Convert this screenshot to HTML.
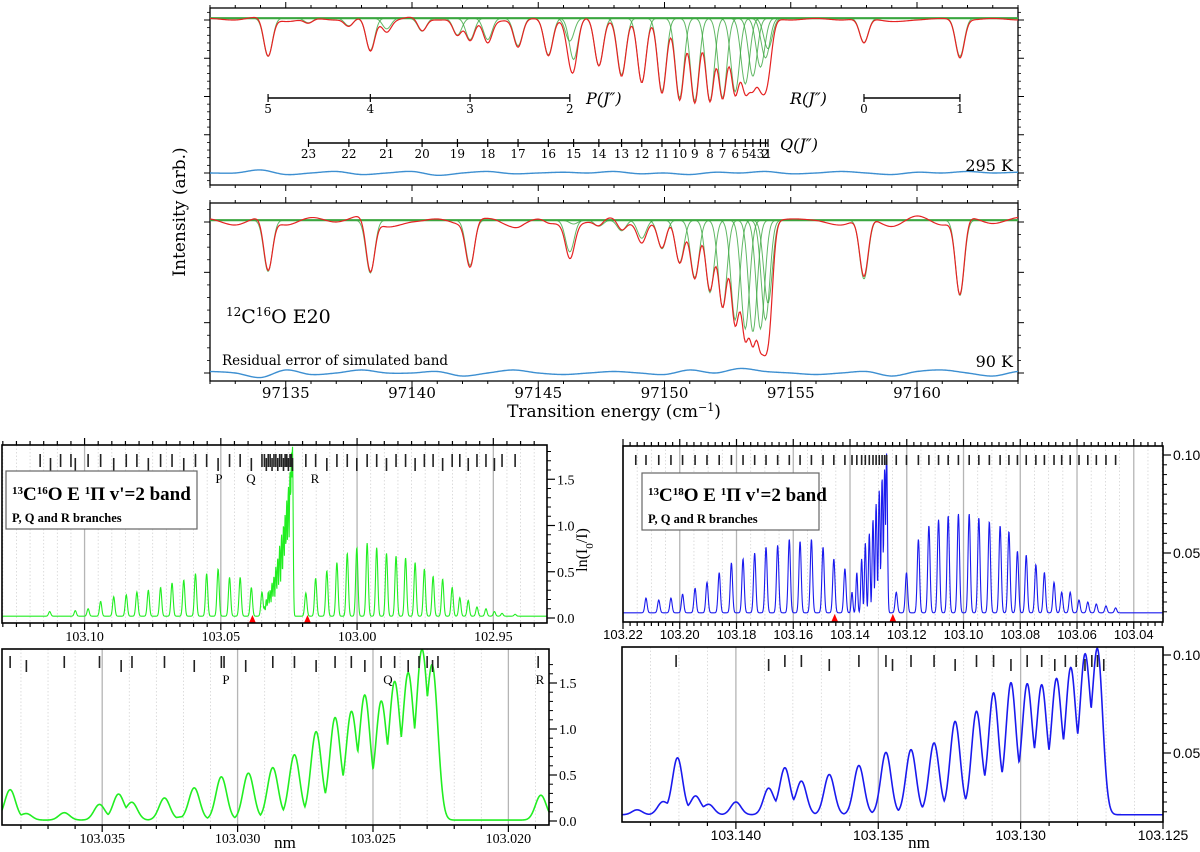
<!DOCTYPE html>
<html><head><meta charset="utf-8">
<style>
html,body{margin:0;padding:0;background:#fff;}
svg{display:block;}
.serif{font-family:"DejaVu Serif","Liberation Serif",serif;}
.times{font-family:"Liberation Serif",serif;}
.sans{font-family:"Liberation Sans",sans-serif;}
</style></head>
<body>
<svg id="fig" width="1200" height="852" viewBox="0 0 1200 852" xmlns="http://www.w3.org/2000/svg">
<g id="gTop1"></g>
<g id="gTop2"></g>
<g id="gBL1"></g>
<g id="gBR1"></g>
<g id="gBL2"></g>
<g id="gBR2"></g>
<g id="gText">
  <text class="serif" x="185" y="212" font-size="17" text-anchor="middle" transform="rotate(-90 185 212)">Intensity (arb.)</text>
  <text class="serif" x="614" y="417" font-size="17" text-anchor="middle">Transition energy (cm<tspan baseline-shift="super" font-size="11">−1</tspan>)</text>
  <text class="serif" x="1013" y="171" font-size="16" text-anchor="end">295 K</text>
  <text class="serif" x="1013" y="367" font-size="16" text-anchor="end">90 K</text>
  <text class="serif" x="222" y="365" font-size="13.5">Residual error of simulated band</text>
  <text class="serif" x="226" y="323" font-size="19"><tspan baseline-shift="super" font-size="12">12</tspan>C<tspan baseline-shift="super" font-size="12">16</tspan>O E20</text>
  <text class="serif" x="586" y="104" font-size="16" font-style="italic">P(J″)</text>
  <text class="serif" x="790" y="104" font-size="16" font-style="italic">R(J″)</text>
  <text class="serif" x="780" y="150" font-size="16" font-style="italic">Q(J″)</text>
  <text class="times" x="587" y="550" font-size="16" text-anchor="middle" transform="rotate(-90 587 550)">ln(I<tspan baseline-shift="sub" font-size="11">0</tspan>/I)</text>
  <text class="times" x="285" y="848" font-size="17" text-anchor="middle">nm</text>
  <text class="times" x="919" y="848" font-size="17" text-anchor="middle">nm</text>
  <g>
    <rect x="6" y="471" width="191" height="58" fill="#fff" stroke="#666" stroke-width="1.2"/>
    <text class="times" x="12" y="500" font-size="19" font-weight="bold"><tspan baseline-shift="super" font-size="11">13</tspan>C<tspan baseline-shift="super" font-size="11">16</tspan>O   E <tspan baseline-shift="super" font-size="11">1</tspan>Π v'=2 band</text>
    <text class="times" x="12" y="522" font-size="12.5" font-weight="bold">P, Q and R branches</text>
  </g>
  <g>
    <rect x="642" y="473" width="177" height="57" fill="#fff" stroke="#666" stroke-width="1.2"/>
    <text class="times" x="648" y="501" font-size="19" font-weight="bold"><tspan baseline-shift="super" font-size="11">13</tspan>C<tspan baseline-shift="super" font-size="11">18</tspan>O   E <tspan baseline-shift="super" font-size="11">1</tspan>Π v'=2 band</text>
    <text class="times" x="648" y="523" font-size="12.5" font-weight="bold">P, Q and R branches</text>
  </g>
</g>
</svg>
<script>
// ================= DATA =================
const pLabels = [5, 4, 3, 2];
const pPos = [97134.3, 97138.35, 97142.3, 97146.25];
const rLabels = [0, 1];
const rPos = [97157.9, 97161.7];
const qLabels = [1,2,3,4,5,6,7,8,9,10,11,12,13,14,15,16,17,18,19,20,21,22,23];
const qPos = [97154.1,97154.0,97153.8,97153.5,97153.2,97152.8,97152.3,97151.8,97151.2,97150.6,97149.9,97149.1,97148.3,97147.4,97146.4,97145.4,97144.2,97143.0,97141.8,97140.4,97139.0,97137.5,97135.9];
const pDepth295 = [0.25, 0.21, 0.14, 0.15];
const rDepth295 = [0.16, 0.25];
const qDepth295 = [0.20,0.26,0.32,0.38,0.43,0.48,0.52,0.54,0.54,0.52,0.48,0.42,0.37,0.31,0.27,0.24,0.18,0.14,0.11,0.085,0.07,0.05,0.03];
const pDepth90 = [0.34, 0.35, 0.30, 0.21];
const rDepth90 = [0.39, 0.50];
const qDepth90 = [0.55,0.66,0.72,0.74,0.72,0.66,0.58,0.48,0.38,0.28,0.19,0.12,0.07,0.04,0.025,0.015,0.01,0.006,0.004,0.003,0.002,0.002,0.001];
const ripple295 = [0.01,0.0,0.02,-0.01,0.01,0.0,0.015,-0.01,0.02,0.0,0.01,-0.01,0.0,0.01,0.0,0.015,0.0,0.01,0.0,-0.005,0.01,0.0,0.01,0.0,0.01,0.0,0.01,-0.01,0.0,0.01,0.0,0.01,0.0];
const ripple90 = [0.02,-0.02,0.03,-0.02,0.03,0.0,0.04,-0.03,0.0,0.02,-0.01,0.03,-0.03,0.02,-0.02,0.0,0.03,-0.02,0.02,0.0,0.03,-0.02,0.0,0.02,0.01,-0.02,0.03,-0.03,0.04,-0.02,0.03,-0.01,0.03];
const resid295 = [0.0,0.0,0.02,-0.01,0.0,0.01,-0.01,0.0,0.01,-0.015,0.0,0.01,-0.005,0.0,0.005,0.0,0.01,-0.005,0.0,-0.01,0.005,0.0,0.01,-0.005,0.0,0.01,0.0,-0.01,0.005,0.0,0.01,0.0,0.005];
const resid90 = [0.01,0.0,-0.03,0.02,-0.01,0.0,0.02,0.0,0.0,0.01,-0.02,0.0,0.02,0.0,-0.01,0.0,0.01,0.0,-0.01,0.02,0.0,0.03,0.01,0.0,-0.01,0.0,0.01,-0.02,0.01,0.02,0.0,-0.02,0.01];

const c16PPos = [103.1128,103.1034,103.0987,103.0941,103.0893,103.0847,103.0808,103.0766,103.0721,103.0679,103.0636,103.0593,103.0552,103.0510,103.0468,103.0429,103.0388,103.0349];
const c16PVal = [0.07,0.08,0.10,0.18,0.23,0.25,0.28,0.30,0.33,0.38,0.41,0.48,0.48,0.53,0.44,0.44,0.33,0.28];
const c16QPos = [103.0340,103.0333,103.0326,103.0319,103.0312,103.0305,103.0298,103.0291,103.0284,103.0277,103.0270,103.0264,103.0258,103.0252,103.0246,103.0241,103.0237];
const c16QVal = [0.12,0.20,0.28,0.30,0.38,0.45,0.55,0.65,0.78,0.90,1.00,1.10,1.25,1.40,1.55,1.70,1.80];
const c16RPos = [103.0188,103.0152,103.0111,103.0074,103.0036,103.0001,102.9963,102.9928,102.9892,102.9857,102.9822,102.9787,102.9753,102.9721,102.9686,102.9651,102.9623,102.9592,102.9560,102.9527,102.9496,102.9468,102.9420];
const c16RVal = [0.27,0.43,0.51,0.60,0.70,0.76,0.81,0.76,0.70,0.67,0.65,0.60,0.53,0.45,0.42,0.33,0.22,0.19,0.12,0.10,0.07,0.05,0.04];
const c16Arrows = [103.0384, 103.0182];

const c18PPos = [103.2119,103.2074,103.2031,103.1990,103.1946,103.1904,103.1861,103.1818,103.1777,103.1736,103.1696,103.1655,103.1614,103.1576,103.1536,103.1495,103.1457,103.1418];
const c18PVal = [0.027,0.026,0.027,0.029,0.032,0.035,0.040,0.045,0.047,0.050,0.053,0.054,0.057,0.056,0.057,0.053,0.047,0.042];
const c18QPos = [103.1393,103.1376,103.1359,103.1346,103.1332,103.1319,103.1308,103.1297,103.1287,103.1278,103.1271];
const c18QVal = [0.030,0.040,0.047,0.055,0.060,0.067,0.075,0.082,0.088,0.092,0.100];
const c18RPos = [103.1237,103.1201,103.1159,103.1122,103.1088,103.1054,103.1018,103.0980,103.0946,103.0909,103.0871,103.0840,103.0810,103.0779,103.0745,103.0715,103.0681,103.0654,103.0624,103.0593,103.0562,103.0532,103.0498,103.0464];
const c18RVal = [0.030,0.040,0.057,0.064,0.067,0.069,0.070,0.070,0.068,0.066,0.064,0.061,0.051,0.049,0.044,0.040,0.035,0.030,0.030,0.026,0.025,0.024,0.023,0.022];
const c18Arrows = [103.1454, 103.1249];

const z16Pos = [103.0384,103.0378,103.0364,103.0351,103.0344,103.0339,103.0327,103.0321,103.0316,103.0306,103.0296,103.0287,103.0279,103.0271,103.0264,103.0258,103.0253,103.0247,103.0242,103.0237,103.0232,103.0228,103.0188];
const z16Val = [0.34,0.08,0.09,0.18,0.29,0.20,0.25,0.04,0.36,0.48,0.52,0.58,0.72,0.97,1.12,1.17,1.35,1.28,1.48,1.57,1.78,1.62,0.28];
const z16Marks = [103.0384,103.0378,103.0364,103.0351,103.0343,103.0339,103.0327,103.0316,103.0306,103.0305,103.0297,103.0287,103.0279,103.0271,103.0264,103.0258,103.0253,103.0247,103.0242,103.0237,103.0233,103.0230,103.0228,103.0226,103.0189];

const z18Pos = [103.14347,103.14257,103.14205,103.14142,103.14095,103.14000,103.13885,103.13828,103.13770,103.13672,103.13568,103.13473,103.13385,103.13304,103.13230,103.13155,103.13095,103.13034,103.12977,103.12926,103.12874,103.12824,103.12774,103.12730];
const z18Val = [0.021,0.025,0.0475,0.028,0.0237,0.025,0.032,0.0424,0.0356,0.039,0.0436,0.0503,0.0517,0.0551,0.0661,0.0712,0.0805,0.0856,0.0847,0.0839,0.087,0.0924,0.0983,0.1017];
const z18Marks = [103.14210,103.13885,103.13828,103.13770,103.13672,103.13568,103.13473,103.13450,103.13385,103.13304,103.13230,103.13155,103.13095,103.13034,103.12977,103.12926,103.12880,103.12843,103.12805,103.12774,103.12750,103.12730,103.12708];

// ================= HELPERS =================
const NS = 'http://www.w3.org/2000/svg';
function mk(parent, tag, attrs){
  const e = document.createElementNS(NS, tag);
  for (const k in attrs) e.setAttribute(k, attrs[k]);
  parent.appendChild(e);
  return e;
}
function lin(d0,d1,r0,r1){ return v => r0 + (v-d0)*(r1-r0)/(d1-d0); }
function gauss(x, c, s){ const t=(x-c)/s; return Math.exp(-0.5*t*t); }
function smooth(arr, x0, step, x){
  const f=(x-x0)/step; let i=Math.floor(f); const t=f-i;
  const g=k=>arr[Math.max(0,Math.min(arr.length-1,k))];
  const p0=g(i-1),p1=g(i),p2=g(i+1),p3=g(i+2);
  return 0.5*((2*p1)+(-p0+p2)*t+(2*p0-5*p1+4*p2-p3)*t*t+(-p0+3*p1-3*p2+p3)*t*t*t);
}
function pathFrom(xs, ys){
  let d=''; for(let i=0;i<xs.length;i++){ d+=(i?'L':'M')+xs[i].toFixed(2)+' '+ys[i].toFixed(2); } return d;
}

// ================= TOP PANELS =================
const E0=97132, E1=97164;
const XT = lin(E0,E1,210,1018);
const topSig = 0.17;
function topPanel(g, yTop, yBot, Y, pD, rD, qD, ripple, resid, majorI, minorI, showLabels){
  const fr = mk(g,'rect',{x:210,y:yTop,width:808,height:yBot-yTop,fill:'none',stroke:'#000','stroke-width':1.3});
  
  
  for(let e=E0;e<=E1;e++){
    const x=XT(e); const major = e%5===0; const L = major?6:3;
    mk(g,'line',{x1:x,y1:yBot,x2:x,y2:yBot+L,stroke:'#000','stroke-width':1});
    mk(g,'line',{x1:x,y1:yTop,x2:x,y2:yTop-L,stroke:'#000','stroke-width':1});
    if(major && showLabels){
      const t=mk(g,'text',{x:x,y:yBot+17,'font-size':15,'text-anchor':'middle',class:'serif'});
      t.textContent=String(e);
      
      
    }
  }
  majorI.forEach(v=>{
    const y=Y(v);
    mk(g,'line',{x1:210,y1:y,x2:204,y2:y,stroke:'#000','stroke-width':1});
    mk(g,'line',{x1:1018,y1:y,x2:1024,y2:y,stroke:'#000','stroke-width':1});
  });
  minorI.forEach(v=>{
    const y=Y(v);
    if(y<yTop||y>yBot) return;
    mk(g,'line',{x1:210,y1:y,x2:207,y2:y,stroke:'#000','stroke-width':0.8});
    mk(g,'line',{x1:1018,y1:y,x2:1021,y2:y,stroke:'#000','stroke-width':0.8});
  });
  const xs=[], red=[], blue=[];
  const comps=[];
  const allPos = pPos.concat(rPos, qPos), allD = pD.concat(rD, qD);
  allPos.forEach(()=>comps.push([]));
  for(let e=E0;e<=E1+1e-9;e+=0.04){
    xs.push(XT(e));
    let T=1;
    allPos.forEach((c,i)=>{ const v=allD[i]*gauss(e,c,topSig); T*=(1-v); comps[i].push(Y(1.012 - v)); });
    red.push(Math.min(yBot-1,Y(T + smooth(ripple,E0,1,e))));
    blue.push(Y(smooth(resid,E0,1,e)));
  }
  comps.forEach((ys,i)=>{
    if(allD[i]<0.02) return;
    const p=mk(g,'path',{d:pathFrom(xs,ys),fill:'none',stroke:'#3aa63f','stroke-width':1,'stroke-opacity':0.8});
    
    
  });
  const gl=mk(g,'line',{x1:210,y1:Y(1.012),x2:1018,y2:Y(1.012),stroke:'#3aa63f','stroke-width':2.2});
  
  
  const rp=mk(g,'path',{d:pathFrom(xs,red),fill:'none',stroke:'#e52222','stroke-width':1.2});
  
  
  const bp=mk(g,'path',{d:pathFrom(xs,blue),fill:'none',stroke:'#3d8fd1','stroke-width':1.4});
  
  
}
const Y1 = lin(0,1,173,20);
const Y2 = lin(0,1,373,222);
topPanel(document.getElementById('gTop1'),8,185,Y1,pDepth295,rDepth295,qDepth295,ripple295,resid295,[0,0.25,0.5,0.75,1],[-0.05,0.05,0.1,0.15,0.2,0.3,0.35,0.4,0.45,0.55,0.6,0.65,0.7,0.8,0.85,0.9,0.95,1.05],false);
topPanel(document.getElementById('gTop2'),203,381,Y2,pDepth90,rDepth90,qDepth90,ripple90,resid90,[0,1/3,2/3,1],[-1/12,1/12,2/12,3/12,5/12,6/12,7/12,9/12,10/12,11/12,13/12],true);

(function(){
  const g=document.getElementById('gTop1');
  function scale(pos, labels, y, fs, name){
    const xs=pos.map(XT);
    const ln=mk(g,'line',{x1:Math.min(...xs),y1:y,x2:Math.max(...xs),y2:y,stroke:'#000','stroke-width':1.6});
    
    
    xs.forEach((x,i)=>{
      mk(g,'line',{x1:x,y1:y-4,x2:x,y2:y+4,stroke:'#000','stroke-width':1.2});
      const t=mk(g,'text',{x:x,y:y+15,'font-size':fs,'text-anchor':'middle',class:'serif'});
      t.textContent=labels[i];
      
      
    });
  }
  scale(pPos,pLabels,98,12,'p-branch-scale');
  scale(rPos,rLabels,98,12,'r-branch-scale');
  scale(qPos,qLabels,143,12,'q-branch-scale');
})();

// ================= BOTTOM PANELS =================
function bottomPanel(o){
  const g=o.g, X=lin(o.d0,o.d1,o.x0,o.x1), Y=o.Y;
  for(let v=o.gridStart; v<=o.d0+1e-9; v+=o.minorGrid){
    const x=X(v); if(x<o.x0||x>o.x1) continue;
    const major = Math.abs(Math.round(v/o.majorGrid)*o.majorGrid - v) < o.minorGrid*0.1;
    mk(g,'line',{x1:x,y1:o.y0,x2:x,y2:o.y1,stroke:major?'#b5b5b5':'#d4d4d4','stroke-width':major?1.3:0.8,'stroke-dasharray':major?'':'1.5 2'});
    if(major && o.labelFmt){
      const t=mk(g,'text',{x:x,y:o.y1+o.labelDy,'font-size':o.labelFs,'text-anchor':'middle',class:o.labelFont});
      t.textContent=v.toFixed(o.labelFmt);
      
      
    }
  }
  for(let v=o.gridStart; v<=o.d0+1e-9; v+=o.xTick){
    const x=X(v); if(x<o.x0||x>o.x1) continue;
    const major = Math.abs(Math.round(v/o.majorGrid)*o.majorGrid - v) < o.xTick*0.1;
    const L=major?7:4;
    mk(g,'line',{x1:x,y1:o.y1,x2:x,y2:o.y1+L,stroke:'#000','stroke-width':1.2});
    if(o.topTicks) mk(g,'line',{x1:x,y1:o.y0,x2:x,y2:o.y0-L,stroke:'#000','stroke-width':1.2});
  }
  o.yMinor.forEach(v=>{ const y=Y(v); if(y<o.y0||y>o.y1) return;
    mk(g,'line',{x1:o.x1,y1:y,x2:o.x1+4,y2:y,stroke:'#000','stroke-width':1}); });
  o.yMajor.forEach((v,i)=>{ const y=Y(v);
    mk(g,'line',{x1:o.x1,y1:y,x2:o.x1+8,y2:y,stroke:'#000','stroke-width':1.2});
    const t=mk(g,'text',{x:o.x1+10,y:y+5,'font-size':o.yFs,class:o.yFont});
    t.textContent=o.yLabels[i];
    
    
  });
  const xs=[], ys=[];
  const n=1600;
  for(let k=0;k<=n;k++){
    const v=o.d0+(o.d1-o.d0)*k/n;
    let sum=0, mx=0;
    o.lines.forEach(L=>{ L.pos.forEach((c,i)=>{ const a=(L.val[i]-o.base)*gauss(v,c,L.sig); sum+=a; if(a>mx) mx=a; }); });
    const s=o.base+mx+o.overlap*(sum-mx);
    xs.push(X(v)); ys.push(Math.max(o.y0+1,Math.min(o.y1-1,Y(s))));
  }
  const sp=mk(g,'path',{d:pathFrom(xs,ys),fill:'none',stroke:o.color,'stroke-width':o.lw});
  
  
  o.marks.forEach((c,i)=>{
    const x=X(c); const off=(o.stagger && i%3===1)?4:0;
    const m=mk(g,'line',{x1:x,y1:o.markY+off,x2:x,y2:o.markY+o.markL+off,stroke:'#222','stroke-width':1.6});
    
    
  });
  (o.arrows||[]).forEach(c=>{
    const x=X(c);
    const a=mk(g,'path',{d:`M${x-3.5} ${o.y1}L${x+3.5} ${o.y1}L${x} ${o.y1-8}Z`,fill:'#f00'});
    
    
  });
  (o.branchLabels||[]).forEach(b=>{
    const t=mk(g,'text',{x:b[1],y:b[2],'font-size':13,'text-anchor':'middle',class:'times'});
    t.textContent=b[0];
    
    
  });
  const fr=mk(g,'rect',{x:o.x0,y:o.y0,width:o.x1-o.x0,height:o.y1-o.y0,fill:'none',stroke:'#000','stroke-width':1.6});
  
  
}

bottomPanel({g:document.getElementById('gBL1'),d0:103.1303,d1:102.9303,x0:2,x1:547,y0:445,y1:623,Y:lin(0,1,618,525.5),
  gridStart:102.93,minorGrid:0.005,majorGrid:0.05,xTick:0.005,labelFmt:2,labelFs:14,labelDy:18,labelFont:'times',topTicks:true,
  yMajor:[0,0.5,1,1.5],yLabels:['0.0','0.5','1.0','1.5'],yMinor:[0.1,0.2,0.3,0.4,0.6,0.7,0.8,0.9,1.1,1.2,1.3,1.4,1.6,1.7,1.8],yFs:14,yFont:'times',
  base:0.02,color:'#22ee22',lw:1.1,overlap:0.15,
  lines:[{pos:c16PPos,val:c16PVal,sig:0.0004},{pos:c16QPos,val:c16QVal,sig:0.00025},{pos:c16RPos,val:c16RVal,sig:0.0004}],
  marks:[103.1163,103.1125,103.1088,103.1050].concat(c16PPos.slice(1),c16QPos,c16RPos),markY:454,markL:13,stagger:true,
  arrows:c16Arrows,branchLabels:[['P',219,483],['Q',251,483],['R',315,483]]});

bottomPanel({g:document.getElementById('gBR1'),d0:103.22,d1:103.0297,x0:623,x1:1163,y0:446,y1:622,Y:lin(0,0.1,651,455),
  gridStart:103.03,minorGrid:0.005,majorGrid:0.02,xTick:0.0025,labelFmt:2,labelFs:13,labelDy:17,labelFont:'sans',topTicks:true,
  yMajor:[0.05,0.1],yLabels:['0.05','0.10'],yMinor:[0.02,0.025,0.03,0.035,0.04,0.045,0.055,0.06,0.065,0.07,0.075,0.08,0.085,0.09,0.095],yFs:14,yFont:'sans',
  base:0.0195,color:'#1a1aee',lw:1.1,overlap:0.15,
  lines:[{pos:c18PPos,val:c18PVal,sig:0.0004},{pos:c18QPos,val:c18QVal,sig:0.0003},{pos:c18RPos,val:c18RVal,sig:0.0004}],
  marks:[103.2155].concat(c18PPos,c18QPos,c18RPos),markY:455,markL:10,stagger:false,
  arrows:c18Arrows});

bottomPanel({g:document.getElementById('gBL2'),d0:103.0387,d1:103.0185,x0:2,x1:549,y0:649,y1:825,Y:lin(0,1,821,729),
  gridStart:103.019,minorGrid:0.001,majorGrid:0.005,xTick:0.001,labelFmt:3,labelFs:14,labelDy:18,labelFont:'times',topTicks:false,
  yMajor:[0,0.5,1,1.5],yLabels:['0.0','0.5','1.0','1.5'],yMinor:[0.1,0.2,0.3,0.4,0.6,0.7,0.8,0.9,1.1,1.2,1.3,1.4,1.6,1.7],yFs:14,yFont:'times',
  base:0.01,color:'#22ee22',lw:1.6,overlap:0.3,
  lines:[{pos:z16Pos,val:z16Val,sig:0.0002}],
  marks:z16Marks,markY:656,markL:12,stagger:true,
  branchLabels:[['P',226,684],['Q',388,684],['R',540,684]]});

bottomPanel({g:document.getElementById('gBR2'),d0:103.1440,d1:103.1250,x0:622,x1:1163,y0:647,y1:822,Y:lin(0,0.1,851,655),
  gridStart:103.125,minorGrid:0.001,majorGrid:0.005,xTick:0.001,labelFmt:3,labelFs:14,labelDy:18,labelFont:'sans',topTicks:false,
  yMajor:[0.05,0.1],yLabels:['0.05','0.10'],yMinor:[0.02,0.025,0.03,0.035,0.04,0.045,0.055,0.06,0.065,0.07,0.075,0.08,0.085,0.09,0.095],yFs:14,yFont:'sans',
  base:0.0185,color:'#1a1aee',lw:1.6,overlap:0.4,
  lines:[{pos:z18Pos,val:z18Val,sig:0.00018}],
  marks:z18Marks,markY:655,markL:12,stagger:true});
</script>
</body></html>
